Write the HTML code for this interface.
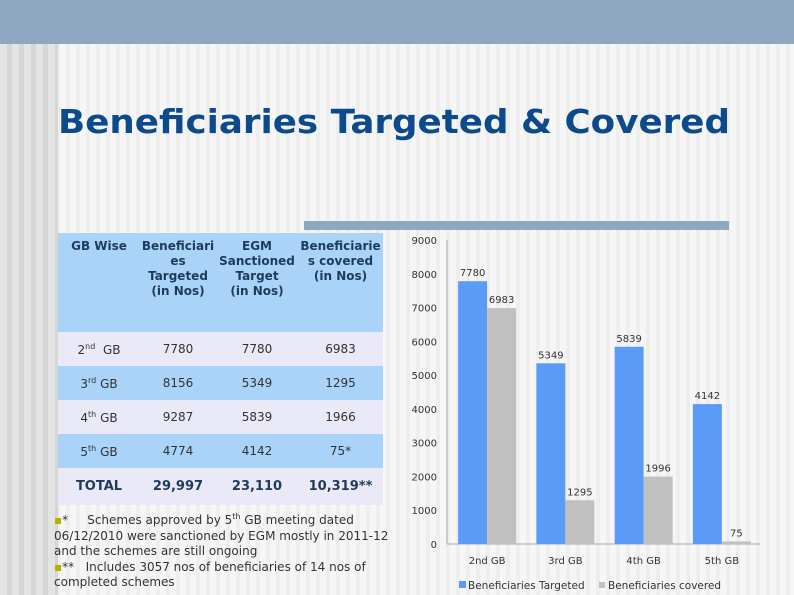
<!DOCTYPE html>
<html><head><meta charset="utf-8"><style>
body{margin:0;width:794px;height:595px;overflow:hidden;position:relative;font-family:"DejaVu Sans","Liberation Sans",sans-serif;
background:repeating-linear-gradient(90deg,#f6f6f6 0 6px,#eeeeee 6px 10px);}
.abs{position:absolute}
table{border-collapse:collapse;font-size:12px;color:#333}
td{text-align:center;padding:0;}
.h td{font-weight:bold;color:#1f3b5a;vertical-align:top;padding-top:6px;line-height:15px;background:#a9d3f8}
.l td{background:#e9e9f7}
.b td{background:#a9d3f8}
.t td{font-weight:bold;color:#1f3b5a;font-size:13px;background:#e9e9f7}
sup{font-size:8px}
</style></head><body>
<div class="abs" style="left:0;top:0;width:794px;height:44px;background:#8fa8c2"></div>
<div class="abs" style="left:0;top:44px;width:58px;height:551px;background:repeating-linear-gradient(90deg,#e4e4e4 0 7px,#d6d6d6 7px 12px)"></div>
<svg class="abs" style="left:0;top:0" width="794" height="595">
<text x="58" y="133" textLength="672" lengthAdjust="spacingAndGlyphs" font-family="DejaVu Sans,sans-serif" font-weight="bold" font-size="33" fill="#0c4a8c">Beneficiaries Targeted &amp; Covered</text>
</svg>
<div class="abs" style="left:304px;top:221px;width:425px;height:9px;background:#8fa8c2"></div>
<table class="abs" style="left:58px;top:233px;width:325px">
<colgroup><col style="width:82px"><col style="width:76px"><col style="width:82px"><col style="width:85px"></colgroup>
<tr class="h" style="height:99px"><td>GB Wise</td><td>Beneficiari<br>es<br>Targeted<br>(in Nos)</td><td>EGM<br>Sanctioned<br>Target<br>(in Nos)</td><td>Beneficiarie<br>s covered<br>(in Nos)</td></tr>
<tr class="l" style="height:34px"><td>2<sup>nd</sup> &nbsp;GB</td><td>7780</td><td>7780</td><td>6983</td></tr>
<tr class="b" style="height:34px"><td>3<sup>rd</sup> GB</td><td>8156</td><td>5349</td><td>1295</td></tr>
<tr class="l" style="height:34px"><td>4<sup>th</sup> GB</td><td>9287</td><td>5839</td><td>1966</td></tr>
<tr class="b" style="height:34px"><td>5<sup>th</sup> GB</td><td>4774</td><td>4142</td><td>75*</td></tr>
<tr class="t" style="height:37px"><td>TOTAL</td><td>29,997</td><td>23,110</td><td>10,319**</td></tr>
</table>
<div class="abs" style="left:54px;top:509px;width:345px;font-size:12px;line-height:15.5px;color:#333">
<div><span style="color:#b8b000">▪</span>* &nbsp;&nbsp;&nbsp;&nbsp;Schemes approved by 5<sup>th</sup> GB meeting dated 06/12/2010 were sanctioned by EGM mostly in 2011-12 and the schemes are still ongoing</div>
<div><span style="color:#b8b000">▪</span>** &nbsp;&nbsp;Includes 3057 nos of beneficiaries of 14 nos of completed schemes</div>
</div>
<svg class="abs" id="chart" style="left:0;top:0" width="794" height="595"></svg>
<script>
const categories=["2nd  GB","3rd GB","4th GB","5th GB"];
const targeted=[7780,5349,5839,4142];
const covered=[6983,1295,1996,75];
const yTicks=[0,1000,2000,3000,4000,5000,6000,7000,8000,9000];
const NS="http://www.w3.org/2000/svg";
const svg=document.getElementById('chart');
const x0=447,x1=760,yBase=544,yTop=240,yMax=9000;
const y=v=>yBase-(v/yMax)*(yBase-yTop);
const gw=(x1-x0)/categories.length;
const xc=i=>x0+gw*(i+0.5);
function el(t,a){const e=document.createElementNS(NS,t);for(const k in a)e.setAttribute(k,a[k]);svg.appendChild(e);return e;}
const ya=el('line',{x1:x0,y1:yTop,x2:x0,y2:yBase,stroke:'#aaa'});


const xa=el('line',{x1:x0,y1:yBase,x2:x1,y2:yBase,stroke:'#aaa'});


yTicks.forEach(v=>{const t=el('text',{x:437,y:y(v)+4,'text-anchor':'end','font-size':10,fill:'#333','font-family':'DejaVu Sans,sans-serif'});t.textContent=v;

});
const bw=29;
categories.forEach((c,i)=>{
 const cx=xc(i)+1;
 const b1=el('rect',{x:cx-bw,y:y(targeted[i]),width:bw,height:yBase-y(targeted[i]),fill:'#5b9bf8'});
 
 
 const b2=el('rect',{x:cx,y:y(covered[i]),width:bw,height:yBase-y(covered[i]),fill:'#c0c0c0'});
 
 
 const l1=el('text',{x:cx-bw/2,y:y(targeted[i])-5,'text-anchor':'middle','font-size':10,fill:'#333','font-family':'DejaVu Sans,sans-serif'});l1.textContent=targeted[i];
 
 
 const l2=el('text',{x:cx+bw/2,y:y(covered[i])-5,'text-anchor':'middle','font-size':10,fill:'#333','font-family':'DejaVu Sans,sans-serif'});l2.textContent=covered[i];
 
 
 const xl=el('text',{x:cx,y:564,'text-anchor':'middle','font-size':10,fill:'#333','font-family':'DejaVu Sans,sans-serif','xml:space':'preserve'});xl.textContent=c;
 
 
});
const lg1=el('rect',{x:459,y:581,width:7,height:7,fill:'#5b9bf8'});


const lt1=el('text',{x:468,y:589,'font-size':10.5,fill:'#333','font-family':'DejaVu Sans,sans-serif'});lt1.textContent='Beneficiaries Targeted';


const lg2=el('rect',{x:599,y:582,width:6,height:6,fill:'#c0c0c0'});


const lt2=el('text',{x:608,y:589,'font-size':10.5,fill:'#333','font-family':'DejaVu Sans,sans-serif'});lt2.textContent='Beneficiaries covered';


</script>
</body></html>
